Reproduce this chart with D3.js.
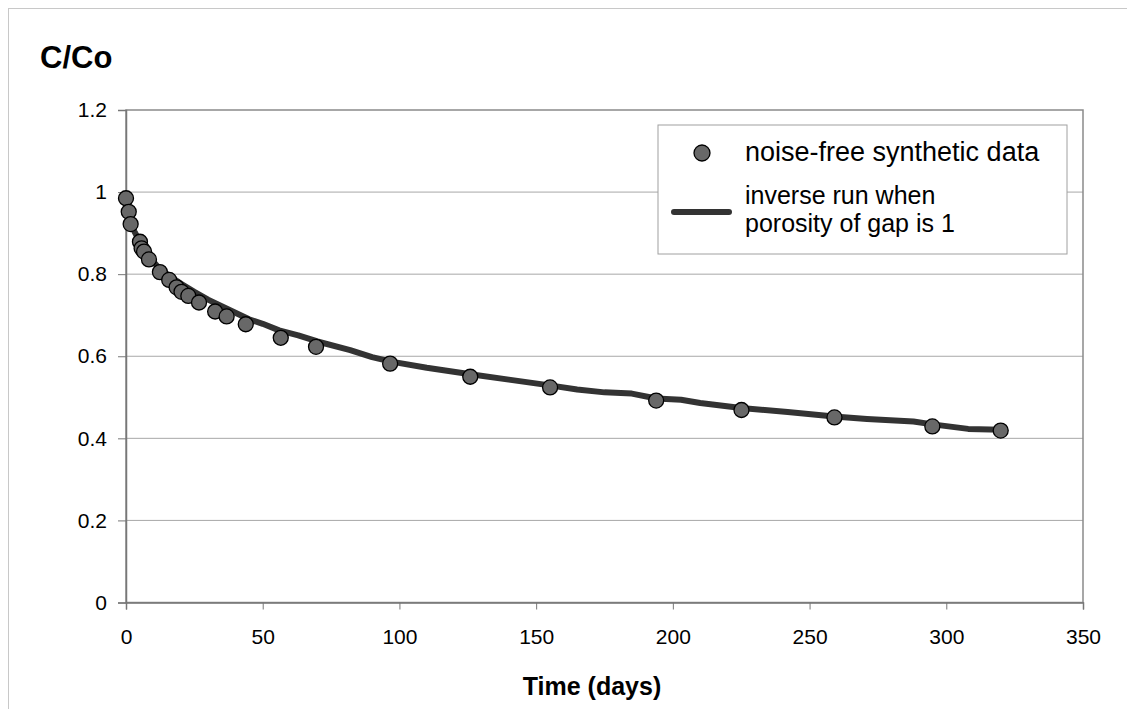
<!DOCTYPE html>
<html lang="en">

<head>
    <meta charset="UTF-8">
    <script src="https://d3js.org/d3.v7.min.js"></script>
    <title>C/Co vs Time</title>
    <style>
        body {
            margin: 0;
            background: white;
        }

        text {
            font-family: Arial, "Liberation Sans", sans-serif;
            fill: black;
        }
    </style>
</head>

<body>
    <div class="fig1"></div>

    <script>
        /*------------------- Data --------------------*/
        // noise-free synthetic data (days, C/Co)
        const dataTime = [0, 1, 1.7, 5.1, 5.7, 6.6, 8.4, 12.4, 15.8, 18.5, 20.3, 22.8, 26.7, 32.6, 36.8, 43.8,
            56.6, 69.5, 96.6, 125.9, 155.1, 193.9, 225.1, 259.1, 294.9, 319.9];
        const dataConc = [0.985, 0.952, 0.922, 0.879, 0.863, 0.855, 0.836, 0.805, 0.786, 0.768, 0.757, 0.747, 0.731, 0.709, 0.697, 0.678,
            0.645, 0.623, 0.582, 0.550, 0.524, 0.492, 0.469, 0.451, 0.429, 0.419];

        // inverse run when porosity of gap is 1
        const runTime = [0, 1, 2, 3, 5, 7, 9, 12, 16, 20, 25, 30, 35, 40, 45, 50, 56, 63, 70, 82, 90, 97,
            110, 126, 140, 155, 165, 175, 185, 194, 203, 210, 225, 242, 259, 271, 288, 295, 308, 320];
        const runConc = [0.985, 0.955, 0.925, 0.905, 0.88, 0.857, 0.838, 0.815, 0.795, 0.777, 0.757, 0.738, 0.722, 0.706, 0.690, 0.679,
            0.663, 0.651, 0.636, 0.615, 0.598, 0.587, 0.572, 0.556, 0.543, 0.529, 0.519, 0.512, 0.509, 0.497, 0.494, 0.486,
            0.474, 0.464, 0.453, 0.447, 0.441, 0.434, 0.423, 0.421];

        const xTicks = [0, 50, 100, 150, 200, 250, 300, 350];
        const yTicks = [0, 0.2, 0.4, 0.6, 0.8, 1, 1.2];
        const legendLabels = ["noise-free synthetic data", "inverse run when", "porosity of gap is 1"];

        /*------------------- Window setting --------------------*/
        const width = 1127;
        const height = 709;
        const plot = { left: 126, top: 110, right: 1083, bottom: 602.5 };

        const svg = d3.select(".fig1").append("svg")
            .attr("width", width)
            .attr("height", height);

        // outer chart frame (only top and left are visible)
        svg.append("rect")
            .attr("x", 8.5)
            .attr("y", 8.5)
            .attr("width", width + 20)
            .attr("height", height + 20)
            .attr("fill", "none")
            .attr("stroke", "#c8c8c8")
            .attr("stroke-width", 1);

        const x = d3.scaleLinear().domain([0, 350]).range([plot.left, plot.right]);
        const y = d3.scaleLinear().domain([0, 1.2]).range([plot.bottom, plot.top]);

        // gridlines
        svg.append("g")
            .selectAll("line")
            .data(yTicks.filter(d => d > 0 && d < 1.2))
            .enter()
            .append("line")
            .attr("x1", plot.left)
            .attr("x2", plot.right)
            .attr("y1", d => y(d))
            .attr("y2", d => y(d))
            .attr("stroke", "#a8a8a8")
            .attr("stroke-width", 1);

        // plot border
        svg.append("rect")
            .attr("x", plot.left)
            .attr("y", plot.top)
            .attr("width", plot.right - plot.left)
            .attr("height", plot.bottom - plot.top)
            .attr("fill", "none")
            .attr("stroke", "#8a8a8a")
            .attr("stroke-width", 1.5);

        // axes
        const xAxis = svg.append("g")
            .attr("transform", `translate(0,${plot.bottom})`)
            .call(d3.axisBottom(x).tickValues(xTicks).tickSize(7).tickPadding(20).tickFormat(d3.format("d")));

        const yAxis = svg.append("g")
            .attr("transform", `translate(${plot.left},0)`)
            .call(d3.axisLeft(y).tickValues(yTicks).tickSize(8).tickPadding(11).tickFormat(d => d3.format("")(d)));

        [xAxis, yAxis].forEach(ax => {
            ax.select(".domain").attr("stroke", "#777").attr("stroke-width", 1.5);
            ax.selectAll(".tick line").attr("stroke", "#777").attr("stroke-width", 1);
            ax.selectAll(".tick text")
                .attr("fill", "black")
                .style("font-size", "21px")
                .style("font-family", "Arial, 'Liberation Sans', sans-serif");
        });

        // model curve
        const runData = runTime.map((t, i) => ({ t: t, c: runConc[i] }));
        const lineGen = d3.line()
            .x(d => x(d.t))
            .y(d => y(d.c));

        svg.append("path")
            .datum(runData)
            .attr("d", lineGen)
            .attr("fill", "none")
            .attr("stroke", "#333333")
            .attr("stroke-width", 6)
            .attr("stroke-linejoin", "round")
            .attr("stroke-linecap", "round");

        // synthetic data points
        const pointData = dataTime.map((t, i) => ({ t: t, c: dataConc[i] }));
        svg.append("g")
            .selectAll("circle")
            .data(pointData)
            .enter()
            .append("circle")
            .attr("cx", d => x(d.t))
            .attr("cy", d => y(d.c))
            .attr("r", 7.5)
            .attr("fill", "#686868")
            .attr("stroke", "black")
            .attr("stroke-width", 1.3);

        // legend
        const legend = svg.append("g");
        legend.append("rect")
            .attr("x", 658)
            .attr("y", 125)
            .attr("width", 409)
            .attr("height", 129)
            .attr("fill", "white")
            .attr("stroke", "#a0a0a0")
            .attr("stroke-width", 1);

        legend.append("circle")
            .attr("cx", 702)
            .attr("cy", 153)
            .attr("r", 8)
            .attr("fill", "#686868")
            .attr("stroke", "black")
            .attr("stroke-width", 1.3);

        legend.append("line")
            .attr("x1", 674)
            .attr("x2", 729)
            .attr("y1", 212)
            .attr("y2", 212)
            .attr("stroke", "#333333")
            .attr("stroke-width", 6)
            .attr("stroke-linecap", "round");

        legend.selectAll("text")
            .data(legendLabels)
            .enter()
            .append("text")
            .attr("x", 745)
            .attr("y", (d, i) => [161, 204, 232][i])
            .style("font-size", (d, i) => i === 0 ? "27px" : "25px")
            .text(d => d);

        // titles
        svg.append("text")
            .attr("x", 40)
            .attr("y", 68)
            .style("font-size", "31px")
            .style("font-weight", "bold")
            .text("C/Co");

        svg.append("text")
            .attr("x", 592)
            .attr("y", 695)
            .attr("text-anchor", "middle")
            .style("font-size", "25px")
            .style("font-weight", "bold")
            .text("Time (days)");
    </script>
</body>
</html>
